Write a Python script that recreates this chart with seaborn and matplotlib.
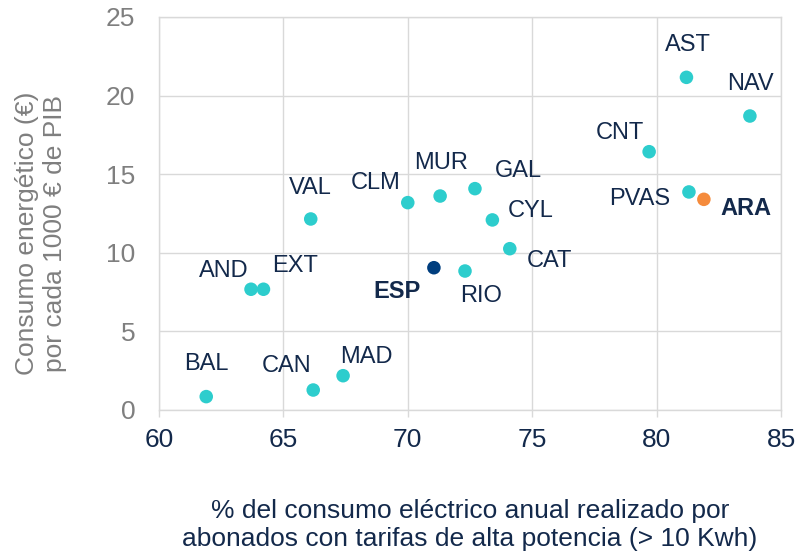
import matplotlib
matplotlib.use("Agg")
import matplotlib.pyplot as plt
import seaborn as sns
import pandas as pd

# data
regions = ["BAL", "CAN", "MAD", "AND", "EXT", "VAL", "CLM", "MUR", "GAL",
           "CYL", "CAT", "RIO", "ESP", "CNT", "AST", "NAV", "PVAS", "ARA"]
alta_potencia = [61.9, 66.2, 67.4, 63.7, 64.2, 66.1, 70.0, 71.3, 72.7,
                 73.4, 74.1, 72.3, 71.05, 79.7, 81.2, 83.75, 81.3, 81.9]
consumo = [0.85, 1.27, 2.18, 7.68, 7.68, 12.15, 13.19, 13.61, 14.08,
           12.09, 10.26, 8.84, 9.05, 16.43, 21.16, 18.70, 13.87, 13.40]
grupo = ["CCAA"] * 18
grupo[regions.index("ESP")] = "ESP"
grupo[regions.index("ARA")] = "ARA"

# label offsets in pixels (dx, dy) from each point
offsets = {
    "BAL": (0, 33), "CAN": (-27, 24), "MAD": (23, 19), "AND": (-27, 18),
    "EXT": (32, 23), "VAL": (0, 31), "CLM": (-32, 20), "MUR": (1, 33),
    "GAL": (43, 18), "CYL": (38, 9), "CAT": (40, -12), "RIO": (16, -25),
    "ESP": (-37, -24), "CNT": (-29, 19), "AST": (1, 32), "NAV": (1, 32),
    "PVAS": (-49, -7), "ARA": (42, -9),
}

df = pd.DataFrame({"region": regions, "x": alta_potencia, "y": consumo, "grupo": grupo})

navy = "#13294B"
sns.set_style("whitegrid")
plt.rcParams["font.family"] = ["Liberation Sans", "DejaVu Sans"]

fig = plt.figure(figsize=(7.98, 5.55), dpi=100)
ax = fig.add_axes([0.1992, 0.2613, 0.7795, 0.7081])

palette = {"CCAA": "#2DCDCD", "ESP": "#003E7E", "ARA": "#F58B3C"}
sns.scatterplot(data=df, x="x", y="y", hue="grupo", palette=palette,
                s=95, linewidth=0, legend=False, ax=ax, zorder=3)

for r, x, y in zip(regions, alta_potencia, consumo):
    dx, dy = offsets[r]
    bold = r in ("ESP", "ARA")
    ax.annotate(r, (x, y), xytext=(dx, dy), textcoords="offset pixels",
                ha="center", va="center", fontsize=17, color=navy,
                fontweight="bold" if bold else "normal")

ax.set_xlim(60, 85)
ax.set_ylim(0, 25)
ax.set_xticks([60, 65, 70, 75, 80, 85])
ax.set_yticks([0, 5, 10, 15, 20, 25])
ax.grid(True, color="#D9D9D9", linewidth=1)
for sp in ax.spines.values():
    sp.set_color("#D9D9D9")
    sp.set_linewidth(1)
ax.tick_params(axis="x", colors="#D9D9D9", labelcolor=navy, labelsize=19,
               length=5, width=1, bottom=True, pad=8)
ax.tick_params(axis="y", labelcolor="#7F7F7F", labelsize=19, length=0, pad=17)

ax.set_xlabel("% del consumo eléctrico anual realizado por\nabonados con tarifas de alta potencia (> 10 Kwh)",
              fontsize=19, color=navy, labelpad=34, linespacing=1.2)
ax.set_ylabel("Consumo energético (€)\npor cada 1000 € de PIB",
              fontsize=19, color="#7F7F7F", linespacing=1.2)
ax.yaxis.set_label_coords(-0.148, 0.45)

fig.savefig("out.png", dpi=100)
